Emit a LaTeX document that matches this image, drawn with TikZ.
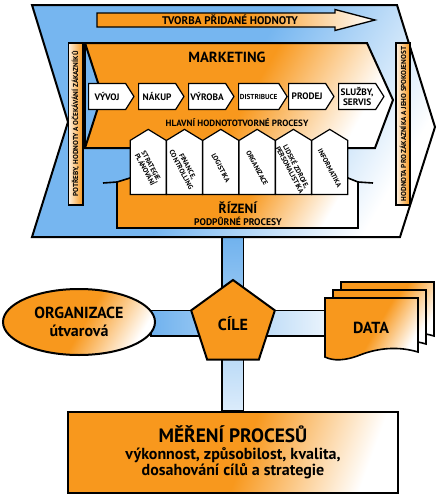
\documentclass[tikz,border=0pt]{standalone}
\usepackage{fontspec}
\setmainfont{PT Sans}
\usetikzlibrary{shapes.geometric,shapes.symbols,calc,backgrounds}

\definecolor{procorange}{RGB}{248,152,29}
\definecolor{procblue}{RGB}{118,182,240}
\definecolor{barblue}{RGB}{112,178,238}

\pgfdeclarehorizontalshading{orangefade}{100bp}{color(0bp)=(procorange); color(25bp)=(procorange); color(52bp)=(procorange); color(75bp)=(white); color(100bp)=(white)}
\pgfdeclarehorizontalshading{bluefade}{100bp}{color(0bp)=(procblue); color(25bp)=(procblue); color(48bp)=(procblue); color(75bp)=(white); color(100bp)=(white)}

\begin{document}
\begin{tikzpicture}[x=0.75pt,y=0.75pt,yscale=-1,xscale=1,
  every node/.style={font=\bfseries},
  orangebox/.style={draw=black,line width=1.5pt,shading=orangefade,shading angle=-30},
  procbox/.style={shape=signal,signal to=east,signal pointer angle=115,draw=black,line width=0.9pt,fill=white,minimum width=34pt,minimum height=19.5pt,inner sep=1pt,align=center,font=\bfseries\fontsize{7}{7.4}\selectfont},
  supbox/.style={shape=signal,signal to=north,signal pointer angle=117,draw=black,line width=0.9pt,fill=white,minimum width=27pt,minimum height=40.5pt,inner sep=0pt},
  suptext/.style={rotate=-62,inner sep=0pt,align=center,font=\bfseries\fontsize{5.2}{5.4}\selectfont},
  sidelabel/.style={rotate=90,draw=black,line width=1pt,minimum width=121.5pt,minimum height=11pt,inner sep=0pt,left color=procorange!12!white,right color=procorange,font=\bfseries\fontsize{5.4}{6}\selectfont},
  bar/.style={draw=black,line width=1pt}
]
\useasboundingbox (0,0) rectangle (439,500);

%Shape: Outer chevron
\draw [draw=black,line width=1.5pt,shading=bluefade,shading angle=-30] (32,5) -- (397,5) -- (435,127) -- (400,237) -- (32,237) -- (68,122) -- cycle ;
\coordinate (vtop) at (232.5,236) ;

%Shape: Arrow
\draw [draw=black,line width=1pt,shading=orangefade,shading angle=0] (97,13) -- (335,13) -- (335,9.5) -- (375,20) -- (335,30.5) -- (335,27) -- (97,27) -- cycle ;
% Text Node
\node (tvorba) at (230,20) [font=\bfseries\fontsize{8.3}{9}\selectfont] {TVORBA PŘIDANÉ HODNOTY};

%Shape: Marketing chevron
\draw [orangebox] (85,43) -- (367,43) -- (393,100) -- (375,148) -- (85,148) -- (102,95) -- cycle ;
\draw [line width=1.5pt] (85,43) -- (85,148) ;
% Text Node
\node (marketing) at (227,57) [font=\bfseries\fontsize{11}{12}\selectfont] {MARKETING};
\node (hlavni) at (237,123) [font=\bfseries\fontsize{6.8}{7}\selectfont] {HLAVNÍ HODNOTOTVORNÉ PROCESY};

%Side labels
\node (potreby) [sidelabel] at (75.5,124) {POTŘEBY, HODNOTY A OČEKÁVÁNÍ ZÁKAZNÍKŮ};
\node (hodnota) [sidelabel,minimum height=10.5pt] at (403,124) {HODNOTA PRO ZÁKAZNÍKA A JEHO SPOKOJENOST};

%Main processes
\node (vyvoj) [procbox,anchor=west] at (88,96.5) {VÝVOJ};
\node (nakup) [procbox,anchor=west] at (138,96.5) {NÁKUP};
\node (vyroba) [procbox,anchor=west] at (188,96.5) {VÝROBA};
\node (distribuce) [procbox,anchor=west,font=\bfseries\fontsize{5.4}{6}\selectfont] at (238,96.5) {DISTRIBUCE};
\node (prodej) [procbox,anchor=west] at (288,96.5) {PRODEJ};
\node (sluzby) [procbox,anchor=west,font=\bfseries\fontsize{7}{7.6}\selectfont] at (338,96.5) {SLUŽBY,\\SERVIS};

%Shape: Support tray
\draw [orangebox,line width=1.2pt] (117,228) -- (117,182) -- (130,178) -- (348,178) -- (358,182) -- (358,228) -- cycle ;
\draw [line width=1.2pt] (103,183) -- (117,182) (358,182) -- (373,183) ;
% Text Node
\node (rizeni) at (238,208) [font=\bfseries\fontsize{10}{10}\selectfont] {ŘÍZENÍ};
\node (podpurne) at (238,221) [font=\bfseries\fontsize{7.2}{8}\selectfont] {PODPŮRNÉ PROCESY};

%Support processes
\foreach \i/\txt in {0/{STRATEGIE,\\PLÁNOVÁNÍ},1/{FINANCE,\\CONTROLLING},2/{LOGISTIKA},3/{ORGANIZACE},4/{LIDSKÉ ZDROJE,\\PERSONALISTIKA},5/{INFORMATIKA}}{
  \node (sup\i) [supbox,anchor=south] at (148.2+36.3*\i,195) {};
  \node (suptxt\i) [suptext] at ($(sup\i.south)+(0,-27)$) {\txt};
}

%Lower part
\node (organizace) [ellipse,draw=black,line width=1.5pt,minimum width=114pt,minimum height=49.5pt,shading=orangefade,shading angle=-30,align=center,inner sep=0pt,font=\bfseries\fontsize{12}{14}\selectfont] at (79,322) {ORGANIZACE\\útvarová};
\node (cile) [regular polygon,regular polygon sides=5,draw=black,line width=1.5pt,fill=procorange,minimum size=66pt,inner sep=0pt,font=\bfseries\fontsize{12}{14}\selectfont] at (233,324) {CÍLE};

%Shape: Data sheets
\foreach \d in {16,8,0}{
  \draw [orangebox,line width=1.2pt] (325+\d,298-\d) -- (418+\d,298-\d) -- (418+\d,352-\d) .. controls (398+\d,346-\d) and (378+\d,348-\d) .. (360+\d,355-\d) .. controls (345+\d,361-\d) and (333+\d,361-\d) .. (325+\d,357-\d) -- cycle ;
}
\node (data) at (371,328) [font=\bfseries\fontsize{12}{14}\selectfont] {DATA};
\coordinate (dataleft) at (326,324) ;

\node (mereni) [draw=black,line width=1.5pt,shading=orangefade,shading angle=-20,minimum width=247.5pt,minimum height=60.75pt,align=center,inner sep=0pt] at (233,452.5) {{\fontsize{14.5}{18}\selectfont MĚŘENÍ PROCESŮ}\\[1pt]{\fontsize{12}{16}\selectfont výkonnost, způsobilost, kvalita,}\\{\fontsize{12}{16}\selectfont dosahování cílů a strategie}};

%Connectors
\begin{pgfonlayer}{background}
\draw [bar,top color=barblue,bottom color=barblue!25!white] ($(vtop)+(-10.5,0)$) rectangle ($(mereni.north)+(10.5,0)$) ;
\draw [bar,left color=barblue,right color=barblue!15!white] ($(organizace.east)+(-5,-11.5)$) rectangle ($(dataleft)+(0,12)$) ;
\end{pgfonlayer}

\end{tikzpicture}
\end{document}
